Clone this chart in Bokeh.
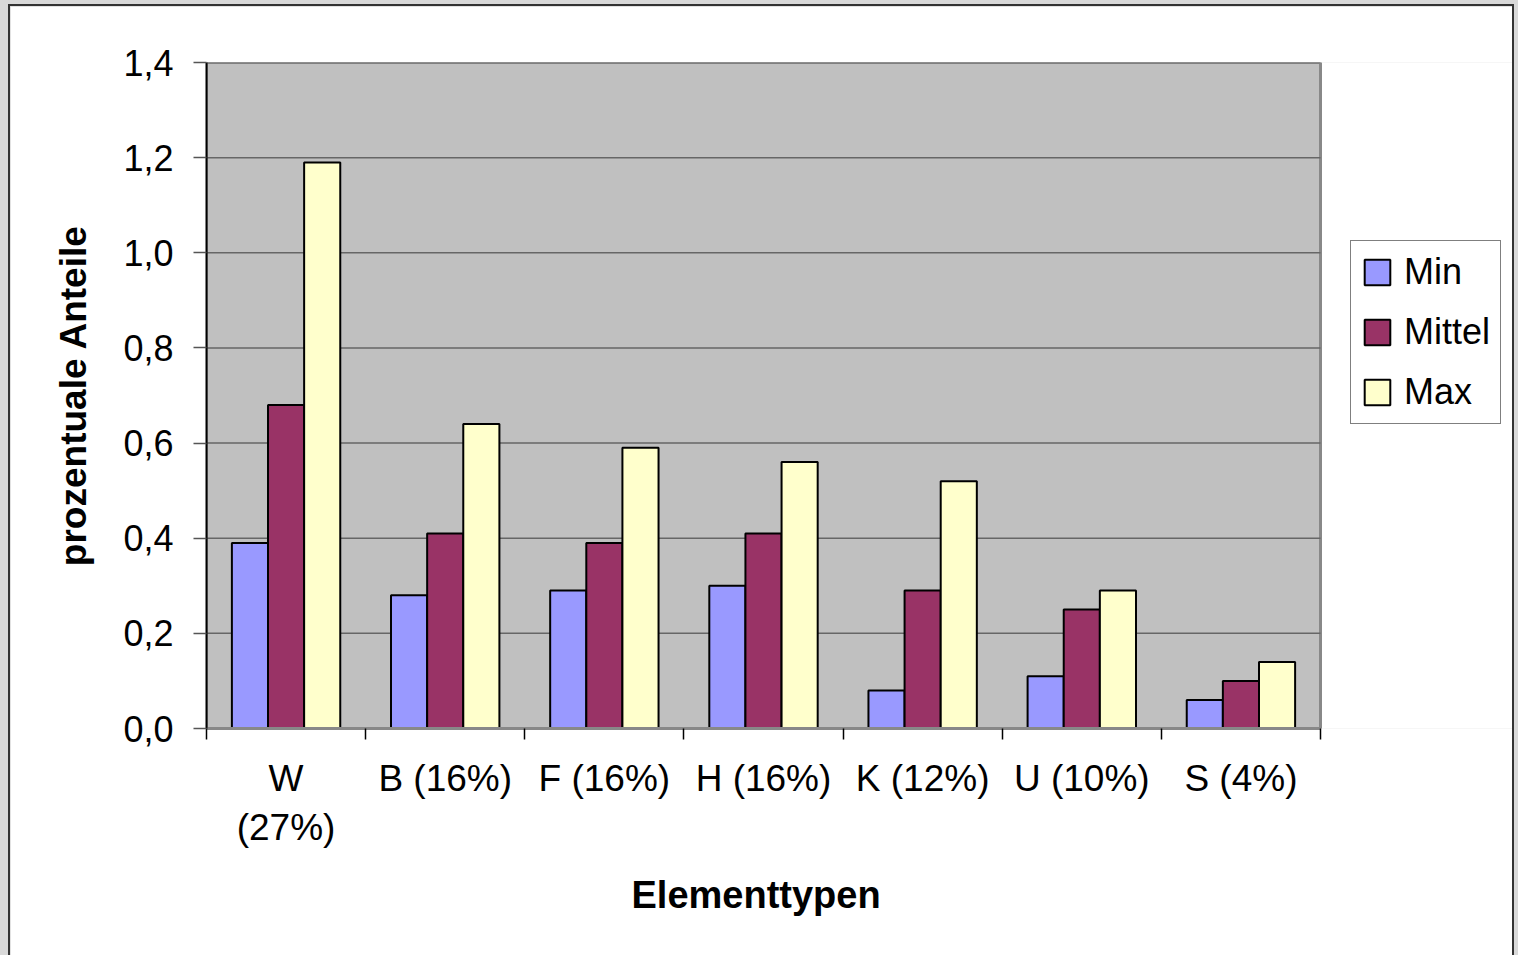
from bokeh.plotting import figure
from bokeh.layouts import column
from bokeh.models import (ColumnDataSource, Range1d, FixedTicker, CustomJSTickFormatter,
                          Legend, LegendItem, LinearAxis, Title)
from bokeh.transform import dodge
from bokeh.embed import file_html
from bokeh.resources import INLINE

# ---- data ----
categories = ["W\n(27%)", "B (16%)", "F (16%)", "H (16%)", "K (12%)", "U (10%)", "S (4%)"]
min_vals = [0.39, 0.28, 0.29, 0.30, 0.08, 0.11, 0.06]
mittel_vals = [0.68, 0.41, 0.39, 0.41, 0.29, 0.25, 0.10]
max_vals = [1.19, 0.64, 0.59, 0.56, 0.52, 0.29, 0.14]
series_names = ["Min", "Mittel", "Max"]
colors = ["#9999ff", "#993366", "#ffffcc"]
y_ticks = [0.0, 0.2, 0.4, 0.6, 0.8, 1.0, 1.2, 1.4]
y_max = 1.4

n = len(categories)
pos = [i + 0.5 for i in range(n)]
src = ColumnDataSource(dict(x=pos, mn=min_vals, mi=mittel_vals, mx=max_vals))

FONT = "Liberation Sans"
W, H = 1506, 951
LEFT, TOP, BOTTOM = 196, 56, 229
PLOT_PX = 1114                      # width of the grey plotting area in pixels
FRAME_PX = W - LEFT                  # frame reaches the right edge (legend lives inside)
x_end = n * FRAME_PX / PLOT_PX

p = figure(width=W, height=H, output_backend="svg", toolbar_location=None,
           x_range=Range1d(0, x_end), y_range=Range1d(0, y_max),
           min_border_left=LEFT, min_border_right=0, min_border_top=TOP,
           min_border_bottom=BOTTOM, x_axis_location=None, y_axis_location=None)
p.styles = {"border-top": "2px solid #333333", "border-left": "2px solid #333333",
            "border-right": "2px solid #333333"}

p.background_fill_color = "white"
p.border_fill_color = "white"
p.outline_line_color = None
p.xgrid.grid_line_color = None
p.ygrid.grid_line_color = None

# grey plotting area
p.quad(left=[0], right=[n], bottom=[0], top=[y_max], fill_color="#c0c0c0",
       line_color="#888888", line_width=3)
# horizontal grid lines
p.segment(x0=[0] * len(y_ticks), x1=[n] * len(y_ticks), y0=y_ticks, y1=y_ticks,
          line_color="#666666", line_width=1.5)

bw = 0.227
renderers = []
for col, off, c in zip(["mn", "mi", "mx"], [-bw, 0, bw], colors):
    r = p.vbar(x=dodge("x", off, range=p.x_range), top=col, width=bw, bottom=0,
               source=src, fill_color=c, line_color="black", line_width=2)
    renderers.append(r)

# y axis
yax = LinearAxis(ticker=FixedTicker(ticks=y_ticks),
                 formatter=CustomJSTickFormatter(code="return tick.toFixed(1).replace('.', ',');"))
yax.axis_line_color = "black"
yax.axis_line_width = 2
yax.major_tick_line_color = "#555555"
yax.major_tick_line_width = 1.5
yax.major_tick_out = 13
yax.major_tick_in = 0
yax.minor_tick_line_color = None
yax.major_label_text_font = FONT
yax.major_label_text_font_size = "36px"
yax.major_label_text_color = "black"
yax.major_label_standoff = 20
yax.axis_label = "prozentuale Anteile"
yax.axis_label_text_font = FONT
yax.axis_label_text_font_size = "37px"
yax.axis_label_text_font_style = "bold"
yax.axis_label_text_color = "black"
yax.axis_label_standoff = 26
p.add_layout(yax, "left")

# x axis: ticks at boundaries (minor), labels at centers
xax = LinearAxis(ticker=FixedTicker(ticks=pos, minor_ticks=list(range(n + 1))), bounds=(0, n))
xax.major_label_overrides = {float(v): lab for v, lab in zip(pos, categories)}
xax.major_tick_line_color = None
xax.major_tick_out = 0
xax.major_tick_in = 0
xax.minor_tick_line_color = "black"
xax.minor_tick_line_width = 1.5
xax.minor_tick_out = 11
xax.minor_tick_in = 0
xax.axis_line_color = "#888888"
xax.axis_line_width = 3
xax.major_label_text_font = FONT
xax.major_label_text_font_size = "37px"
xax.major_label_text_color = "black"
xax.major_label_standoff = 18
p.add_layout(xax, "below")

# x axis title, centred under the grey plotting area
xtitle = Title(text="Elementtypen", align="left", offset=425, standoff=43,
               text_font=FONT, text_font_size="38px", text_font_style="bold",
               text_color="black")
p.add_layout(xtitle, "below")

legend = Legend(items=[LegendItem(label=nm, renderers=[r]) for nm, r in zip(series_names, renderers)],
                location=(1144, 304))
legend.label_text_font = FONT
legend.label_text_font_size = "36px"
legend.label_text_color = "black"
legend.glyph_width = 32
legend.glyph_height = 32
legend.label_standoff = 11
legend.padding = 10
legend.spacing = 18
legend.border_line_color = "black"
legend.border_line_width = 1
legend.background_fill_color = "white"
legend.background_fill_alpha = 1
p.add_layout(legend, "center")

root = column(p, styles={"background-color": "#d9d9d9", "padding": "4px 4px 0px 8px"})

html = file_html(root, INLINE)
open("out.html", "w").write(html)
